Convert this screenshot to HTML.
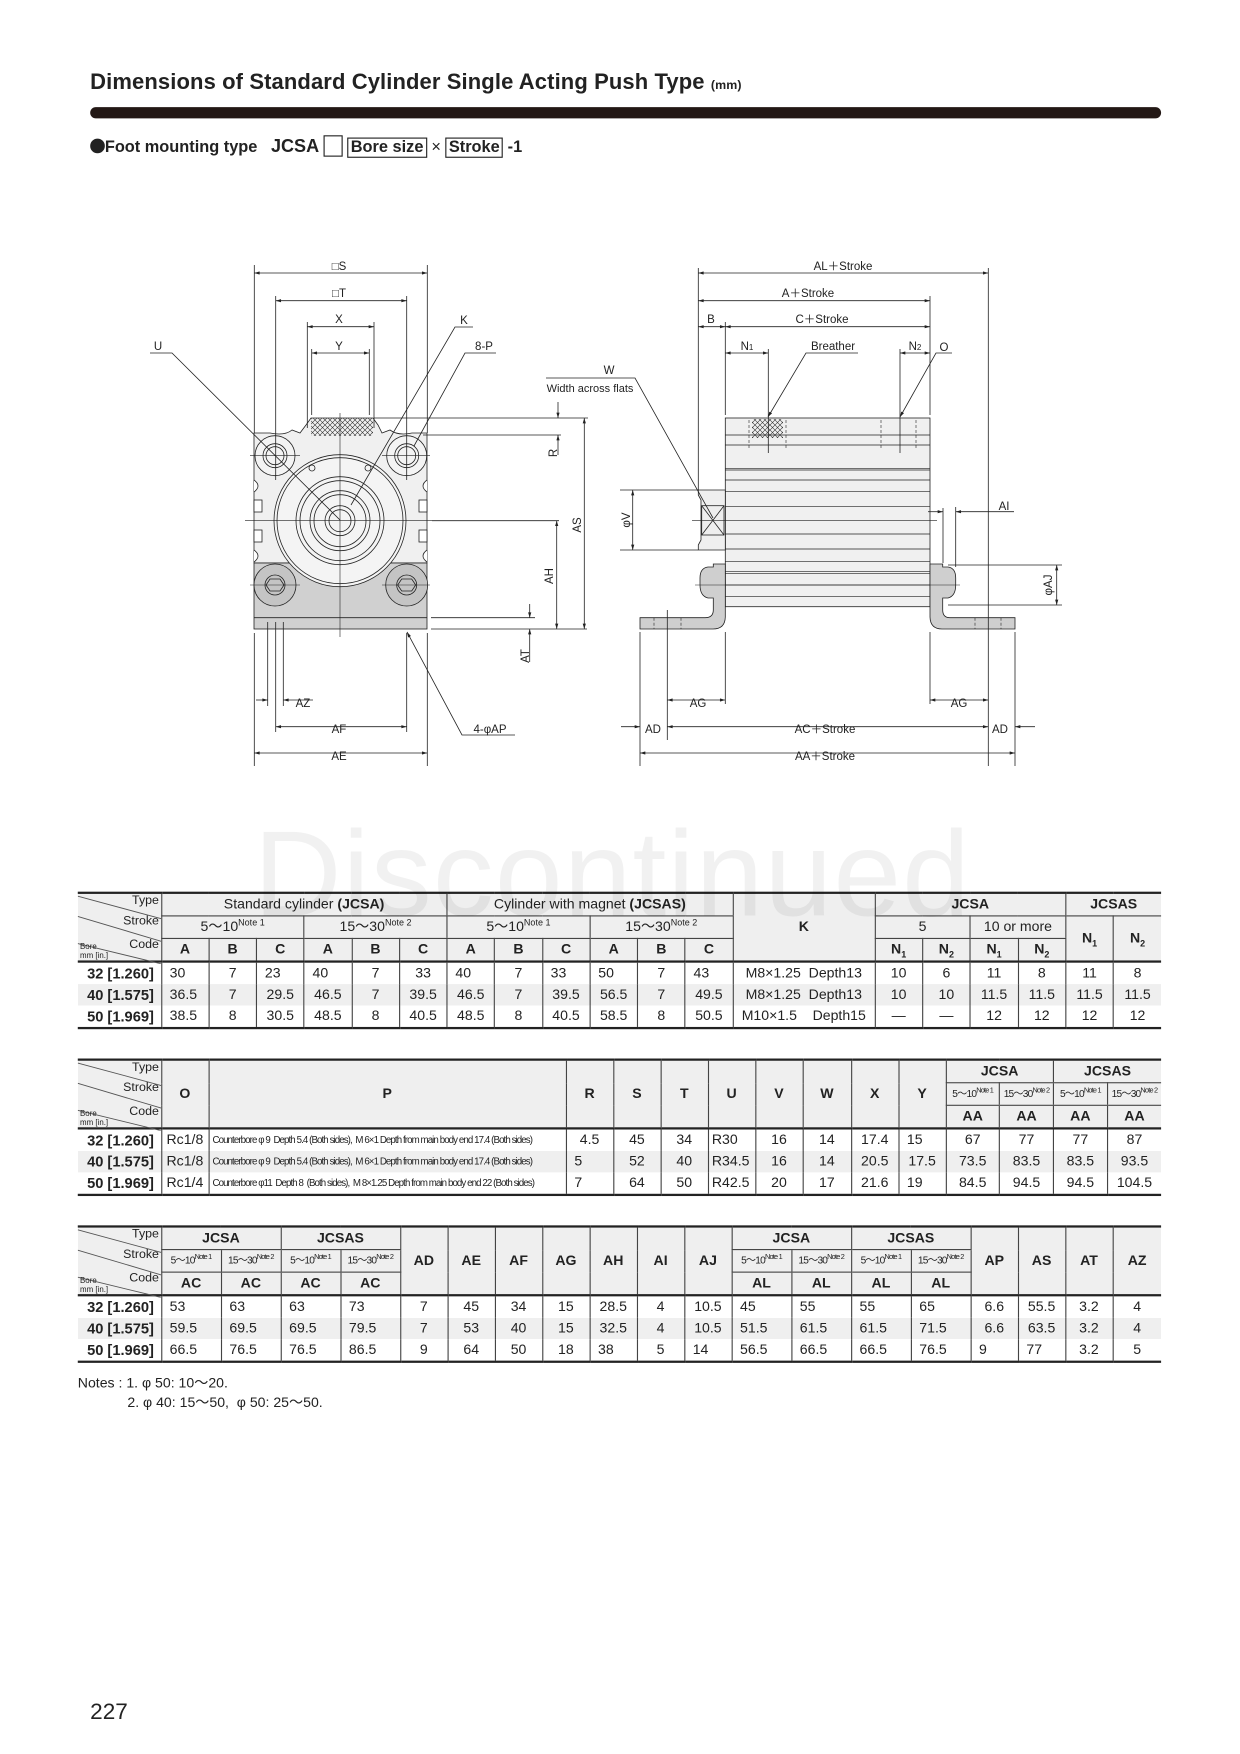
<!DOCTYPE html>
<html><head><meta charset="utf-8">
<style>
html,body{margin:0;padding:0;background:#fff;}
body{width:1240px;height:1754px;position:relative;overflow:hidden;font-family:"Liberation Sans","Noto Sans CJK JP",sans-serif;color:#222;}
#w{position:absolute;left:0;top:0;width:1100px;height:1556px;transform:scale(1.127273);transform-origin:0 0;}
sup,sub{line-height:0;}
.t{position:absolute;left:69px;border-collapse:collapse;table-layout:fixed;font-size:12.5px;width:961px;}
.t td{padding:0;height:19px;text-align:center;border-left:1px solid #444;white-space:nowrap;overflow:hidden;line-height:19px;}
.t tr.h td{background:#efefef;}
.t tr.h1 td{border-top:2px solid #222;}
.t tr.h3 td,.t td.b{font-weight:bold;}
.t tr.d1 td{border-top:2px solid #222;}
.t tr.d3 td{border-bottom:2px solid #222;}
.t tr.g td{background:#efefef;}
.t td.l{font-weight:bold;font-size:13px;border-left:none;text-align:right;padding-right:6px;}
.t td.c{border-left:none;}
.t td.s{font-size:9px;letter-spacing:-0.7px;}
.t td.s sup{font-size:6.5px;}
.t .hl td{border-bottom:1px solid #444;}
.t td.p{font-size:8.6px;text-align:left;padding-left:3px;letter-spacing:-0.8px;}
.t td.al{text-align:left;padding-left:7px;}
.corner{position:absolute;left:69px;width:74px;height:63px;font-size:11px;}
.corner span{position:absolute;right:2px;}
</style></head><body>
<div id="w">
<div style="position:absolute;left:80px;top:62px;font-size:19.5px;font-weight:bold;letter-spacing:0.1px;">Dimensions of Standard Cylinder Single Acting Push Type <span style="font-size:11px;">(mm)</span></div>
<div style="position:absolute;left:80px;top:95px;width:950px;height:10px;background:#231815;border-radius:5px;"></div>
<div style="position:absolute;left:80px;top:120px;font-size:14.5px;font-weight:bold;line-height:20px;white-space:nowrap;">
<span style="display:inline-block;width:13px;height:13px;border-radius:50%;background:#222;vertical-align:-1px;"></span>Foot mounting type &nbsp;&nbsp;<span style="font-size:16px;">JCSA</span> <span style="display:inline-block;width:15px;height:17px;border:1px solid #222;vertical-align:-4px;"></span> <span style="border:1px solid #222;padding:0 2px;">Bore size</span> <span style="font-weight:normal">×</span> <span style="border:1px solid #222;padding:0 2px;">Stroke</span> -1</div>

<!-- TABLE 1 -->
<table class="t" style="top:791px;">
<colgroup><col style="width:74px"><col span="12" style="width:42.25px"><col style="width:126px"><col span="6" style="width:42.33px"></colgroup>
<tr class="h h1 hl"><td class="c" rowspan="3"></td><td colspan="6">Standard cylinder <b>(JCSA)</b></td><td colspan="6">Cylinder with magnet <b>(JCSAS)</b></td><td rowspan="3" class="b">K</td><td colspan="4" class="b">JCSA</td><td colspan="2" class="b">JCSAS</td></tr>
<tr class="h hl"><td colspan="3">5～10<sup style="font-size:8px">Note 1</sup></td><td colspan="3">15～30<sup style="font-size:8px">Note 2</sup></td><td colspan="3">5～10<sup style="font-size:8px">Note 1</sup></td><td colspan="3">15～30<sup style="font-size:8px">Note 2</sup></td><td colspan="2">5</td><td colspan="2">10 or more</td><td rowspan="2" class="b" style="border-bottom:none">N<sub style="font-size:8px">1</sub></td><td rowspan="2" class="b" style="border-bottom:none">N<sub style="font-size:8px">2</sub></td></tr>
<tr class="h h3"><td>A</td><td>B</td><td>C</td><td>A</td><td>B</td><td>C</td><td>A</td><td>B</td><td>C</td><td>A</td><td>B</td><td>C</td><td>N<sub style="font-size:8px">1</sub></td><td>N<sub style="font-size:8px">2</sub></td><td>N<sub style="font-size:8px">1</sub></td><td>N<sub style="font-size:8px">2</sub></td></tr>
<tr class="d1"><td class="l">32 [1.260]</td><td class="al">30</td><td>7</td><td class="al">23</td><td class="al">40</td><td>7</td><td>33</td><td class="al">40</td><td>7</td><td class="al">33</td><td class="al">50</td><td>7</td><td class="al">43</td><td>M8×1.25&nbsp; Depth13</td><td>10</td><td>6</td><td>11</td><td>8</td><td>11</td><td>8</td></tr>
<tr class="g"><td class="l">40 [1.575]</td><td class="al">36.5</td><td>7</td><td>29.5</td><td>46.5</td><td>7</td><td>39.5</td><td>46.5</td><td>7</td><td>39.5</td><td>56.5</td><td>7</td><td>49.5</td><td>M8×1.25&nbsp; Depth13</td><td>10</td><td>10</td><td>11.5</td><td>11.5</td><td>11.5</td><td>11.5</td></tr>
<tr class="d3"><td class="l">50 [1.969]</td><td class="al">38.5</td><td>8</td><td>30.5</td><td>48.5</td><td>8</td><td>40.5</td><td>48.5</td><td>8</td><td>40.5</td><td>58.5</td><td>8</td><td>50.5</td><td>M10×1.5&nbsp;&nbsp;&nbsp; Depth15</td><td>—</td><td>—</td><td>12</td><td>12</td><td>12</td><td>12</td></tr>
</table>

<!-- TABLE 2 -->
<table class="t" style="top:939px;">
<colgroup><col style="width:74px"><col style="width:42px"><col style="width:317px"><col span="5" style="width:42px"><col style="width:43px"><col span="2" style="width:42px"><col span="4" style="width:47.75px"></colgroup>
<tr class="h h1"><td class="c" rowspan="3"></td><td rowspan="3" class="b">O</td><td rowspan="3" class="b">P</td><td rowspan="3" class="b">R</td><td rowspan="3" class="b">S</td><td rowspan="3" class="b">T</td><td rowspan="3" class="b">U</td><td rowspan="3" class="b">V</td><td rowspan="3" class="b">W</td><td rowspan="3" class="b">X</td><td rowspan="3" class="b">Y</td><td colspan="2" class="b" style="border-bottom:1px solid #444">JCSA</td><td colspan="2" class="b" style="border-bottom:1px solid #444">JCSAS</td></tr>
<tr class="h hl"><td class="s">5～10<sup>Note 1</sup></td><td class="s">15～30<sup>Note 2</sup></td><td class="s">5～10<sup>Note 1</sup></td><td class="s">15～30<sup>Note 2</sup></td></tr>
<tr class="h h3"><td>AA</td><td>AA</td><td>AA</td><td>AA</td></tr>
<tr class="d1"><td class="l">32 [1.260]</td><td>Rc1/8</td><td class="p">Counterbore φ 9&nbsp; Depth 5.4 (Both sides),&nbsp; M 6×1 Depth from main body end 17.4 (Both sides)</td><td>4.5</td><td>45</td><td>34</td><td class="al" style="padding-left:3px">R30</td><td>16</td><td>14</td><td>17.4</td><td class="al">15</td><td>67</td><td>77</td><td>77</td><td>87</td></tr>
<tr class="g"><td class="l">40 [1.575]</td><td>Rc1/8</td><td class="p">Counterbore φ 9&nbsp; Depth 5.4 (Both sides),&nbsp; M 6×1 Depth from main body end 17.4 (Both sides)</td><td class="al">5</td><td>52</td><td>40</td><td class="al" style="padding-left:3px">R34.5</td><td>16</td><td>14</td><td>20.5</td><td>17.5</td><td>73.5</td><td>83.5</td><td>83.5</td><td>93.5</td></tr>
<tr class="d3"><td class="l">50 [1.969]</td><td>Rc1/4</td><td class="p">Counterbore φ11&nbsp; Depth 8&nbsp; (Both sides),&nbsp; M 8×1.25 Depth from main body end 22 (Both sides)</td><td class="al">7</td><td>64</td><td>50</td><td class="al" style="padding-left:3px">R42.5</td><td>20</td><td>17</td><td>21.6</td><td class="al">19</td><td>84.5</td><td>94.5</td><td>94.5</td><td>104.5</td></tr>
</table>

<!-- TABLE 3 -->
<table class="t" style="top:1087px;">
<colgroup><col style="width:74px"><col span="4" style="width:53px"><col span="7" style="width:42px"><col span="4" style="width:53px"><col span="3" style="width:42px"><col style="width:43px"></colgroup>
<tr class="h h1"><td class="c" rowspan="3"></td><td colspan="2" class="b" style="border-bottom:1px solid #444">JCSA</td><td colspan="2" class="b" style="border-bottom:1px solid #444">JCSAS</td><td rowspan="3" class="b">AD</td><td rowspan="3" class="b">AE</td><td rowspan="3" class="b">AF</td><td rowspan="3" class="b">AG</td><td rowspan="3" class="b">AH</td><td rowspan="3" class="b">AI</td><td rowspan="3" class="b">AJ</td><td colspan="2" class="b" style="border-bottom:1px solid #444">JCSA</td><td colspan="2" class="b" style="border-bottom:1px solid #444">JCSAS</td><td rowspan="3" class="b">AP</td><td rowspan="3" class="b">AS</td><td rowspan="3" class="b">AT</td><td rowspan="3" class="b">AZ</td></tr>
<tr class="h hl"><td class="s">5～10<sup>Note 1</sup></td><td class="s">15～30<sup>Note 2</sup></td><td class="s">5～10<sup>Note 1</sup></td><td class="s">15～30<sup>Note 2</sup></td><td class="s">5～10<sup>Note 1</sup></td><td class="s">15～30<sup>Note 2</sup></td><td class="s">5～10<sup>Note 1</sup></td><td class="s">15～30<sup>Note 2</sup></td></tr>
<tr class="h h3"><td>AC</td><td>AC</td><td>AC</td><td>AC</td><td>AL</td><td>AL</td><td>AL</td><td>AL</td></tr>
<tr class="d1"><td class="l">32 [1.260]</td><td class="al">53</td><td class="al">63</td><td class="al">63</td><td class="al">73</td><td>7</td><td>45</td><td>34</td><td>15</td><td>28.5</td><td>4</td><td>10.5</td><td class="al">45</td><td class="al">55</td><td class="al">55</td><td class="al">65</td><td>6.6</td><td>55.5</td><td>3.2</td><td>4</td></tr>
<tr class="g"><td class="l">40 [1.575]</td><td class="al">59.5</td><td class="al">69.5</td><td class="al">69.5</td><td class="al">79.5</td><td>7</td><td>53</td><td>40</td><td>15</td><td>32.5</td><td>4</td><td>10.5</td><td class="al">51.5</td><td class="al">61.5</td><td class="al">61.5</td><td class="al">71.5</td><td>6.6</td><td>63.5</td><td>3.2</td><td>4</td></tr>
<tr class="d3"><td class="l">50 [1.969]</td><td class="al">66.5</td><td class="al">76.5</td><td class="al">76.5</td><td class="al">86.5</td><td>9</td><td>64</td><td>50</td><td>18</td><td class="al">38</td><td>5</td><td class="al">14</td><td class="al">56.5</td><td class="al">66.5</td><td class="al">66.5</td><td class="al">76.5</td><td class="al">9</td><td class="al">77</td><td>3.2</td><td>5</td></tr>
</table>

<!-- corner cells -->
<div class="corner" style="top:793px;"><svg width="74" height="62" style="position:absolute;left:0;top:0"><line x1="0" y1="2" x2="74" y2="22" stroke="#555" stroke-width="0.8"/><line x1="0" y1="20" x2="74" y2="42" stroke="#555" stroke-width="0.8"/><line x1="0" y1="44" x2="74" y2="62" stroke="#555" stroke-width="0.8"/></svg><span style="top:0">Type</span><span style="top:18px">Stroke</span><span style="top:39px">Code</span><span style="left:2px;right:auto;top:44px;font-size:7px;line-height:8px">Bore<br>mm [in.]</span></div>
<div class="corner" style="top:941px;"><svg width="74" height="62" style="position:absolute;left:0;top:0"><line x1="0" y1="2" x2="74" y2="22" stroke="#555" stroke-width="0.8"/><line x1="0" y1="20" x2="74" y2="42" stroke="#555" stroke-width="0.8"/><line x1="0" y1="44" x2="74" y2="62" stroke="#555" stroke-width="0.8"/></svg><span style="top:0">Type</span><span style="top:18px">Stroke</span><span style="top:39px">Code</span><span style="left:2px;right:auto;top:44px;font-size:7px;line-height:8px">Bore<br>mm [in.]</span></div>
<div class="corner" style="top:1089px;"><svg width="74" height="62" style="position:absolute;left:0;top:0"><line x1="0" y1="2" x2="74" y2="22" stroke="#555" stroke-width="0.8"/><line x1="0" y1="20" x2="74" y2="42" stroke="#555" stroke-width="0.8"/><line x1="0" y1="44" x2="74" y2="62" stroke="#555" stroke-width="0.8"/></svg><span style="top:0">Type</span><span style="top:18px">Stroke</span><span style="top:39px">Code</span><span style="left:2px;right:auto;top:44px;font-size:7px;line-height:8px">Bore<br>mm [in.]</span></div>

<div style="position:absolute;left:225px;top:712px;font-size:108px;color:rgba(0,0,0,0.055);letter-spacing:1px;">Discontinued</div>

<div style="position:absolute;left:69px;top:1219px;font-size:12.5px;line-height:17px;">Notes : 1. φ 50: 10～20.<br><span style="padding-left:44px">2. φ 40: 15～50,&nbsp; φ 50: 25～50.</span></div>
<div style="position:absolute;left:80px;top:1508px;font-size:20px;">227</div>
</div>

<!-- DRAWINGS in real coords -->
<svg width="1240" height="1754" viewBox="0 0 1240 1754" style="position:absolute;left:0;top:0" font-family="Liberation Sans, sans-serif" font-size="12" fill="none" stroke="#222" stroke-width="0.8">
<defs><marker id="a" viewBox="0 0 10 6" refX="10" refY="3" markerWidth="8" markerHeight="4" orient="auto-start-reverse"><path d="M0 0L10 3L0 6z" fill="#222" stroke="none"/></marker>
<pattern id="x" width="5" height="5" patternUnits="userSpaceOnUse"><path d="M0 0L5 5M5 0L0 5" stroke="#333" stroke-width="0.6"/></pattern></defs>

<!-- LEFT VIEW -->
<g>
<path d="M254 433 L270 433 Q285 436 292 430 L300 433 L306 425 L311 418 L373 418 L378 425 L382 433 L390 430 Q398 436 412 433 L427 433 L427 563 L254 563 Z" fill="#f0f0f0"/>
<rect x="254" y="563" width="173" height="66" fill="#d0d0d0"/>
<line x1="254" y1="617.7" x2="427" y2="617.7"/>
<rect x="311" y="418" width="62" height="18" fill="url(#x)" stroke="none"/>
<g fill="#fff"><path d="M254 480 q8 6 0 12"/><path d="M427 480 q-8 6 0 12"/><rect x="254" y="500" width="8" height="12"/><rect x="419" y="500" width="8" height="12"/><rect x="254" y="530" width="8" height="12"/><rect x="419" y="530" width="8" height="12"/><path d="M254 550 q8 6 0 12"/><path d="M427 550 q-8 6 0 12"/></g>
<circle cx="340" cy="520.7" r="66" fill="#f4f4f4"/><circle cx="340" cy="520.7" r="63"/>
<circle cx="340" cy="520.7" r="44"/><circle cx="340" cy="520.7" r="40"/><circle cx="340" cy="520.7" r="30"/><circle cx="340" cy="520.7" r="26"/><circle cx="340" cy="520.7" r="15"/><circle cx="340" cy="520.7" r="11"/>
<circle cx="312" cy="468" r="3"/><circle cx="368" cy="468" r="3"/>
<circle cx="275" cy="455.7" r="20" fill="#f4f4f4"/><circle cx="275" cy="455.7" r="12"/><circle cx="275" cy="455.7" r="9"/>
<circle cx="406.7" cy="455.7" r="20" fill="#f4f4f4"/><circle cx="406.7" cy="455.7" r="12"/><circle cx="406.7" cy="455.7" r="9"/>
<circle cx="275" cy="585" r="21" fill="#c4c4c4"/><circle cx="275" cy="585" r="10"/><path d="M270 579h10l4 6-4 6h-10l-4-6z"/>
<circle cx="406.7" cy="585" r="21" fill="#c4c4c4"/><circle cx="406.7" cy="585" r="10"/><path d="M401.7 579h10l4 6-4 6h-10l-4-6z"/>
<g stroke-width="0.6"><line x1="245" y1="520.7" x2="432" y2="520.7"/><line x1="340" y1="413" x2="340" y2="637"/><line x1="250" y1="455.7" x2="300" y2="455.7"/><line x1="382" y1="455.7" x2="430" y2="455.7"/><line x1="250" y1="585" x2="300" y2="585"/><line x1="382" y1="585" x2="430" y2="585"/></g>
<line x1="254.3" y1="265" x2="254.3" y2="433"/><line x1="427.3" y1="265" x2="427.3" y2="433"/>
<line x1="254.3" y1="273" x2="427.3" y2="273" marker-start="url(#a)" marker-end="url(#a)"/>
<line x1="275.7" y1="296" x2="275.7" y2="480"/><line x1="406.7" y1="296" x2="406.7" y2="480"/>
<line x1="275.7" y1="300.7" x2="406.7" y2="300.7" marker-start="url(#a)" marker-end="url(#a)"/>
<line x1="307.3" y1="322" x2="307.3" y2="428"/><line x1="374" y1="322" x2="374" y2="428"/>
<line x1="307.3" y1="326.7" x2="374" y2="326.7" marker-start="url(#a)" marker-end="url(#a)"/>
<line x1="311.7" y1="349" x2="311.7" y2="415"/><line x1="369.3" y1="349" x2="369.3" y2="415"/>
<line x1="311.7" y1="353" x2="369.3" y2="353" marker-start="url(#a)" marker-end="url(#a)"/>
<polyline points="150,353 172,353 340,520"/><polyline points="473,327 455,327 351,505"/><polyline points="496,353 465,353 414,446"/>
<polyline points="515,735 462,735 407,632" marker-end="url(#a)"/>
<line x1="374" y1="418" x2="588" y2="418"/><line x1="423" y1="435" x2="561" y2="435"/>
<line x1="558" y1="402" x2="558" y2="418" marker-end="url(#a)"/><line x1="558" y1="455" x2="558" y2="435" marker-end="url(#a)"/>
<line x1="432" y1="520.7" x2="559" y2="520.7"/>
<line x1="556.7" y1="520.7" x2="556.7" y2="629" marker-start="url(#a)" marker-end="url(#a)"/>
<line x1="584.3" y1="418" x2="584.3" y2="629" marker-start="url(#a)" marker-end="url(#a)"/>
<line x1="431" y1="617.7" x2="535" y2="617.7"/><line x1="431" y1="629" x2="587" y2="629"/>
<line x1="529.7" y1="604" x2="529.7" y2="617.7" marker-end="url(#a)"/><line x1="529.7" y1="662" x2="529.7" y2="629" marker-end="url(#a)"/>
<line x1="254.3" y1="633" x2="254.3" y2="766"/><line x1="427.3" y1="633" x2="427.3" y2="766"/>
<line x1="275.7" y1="622" x2="275.7" y2="732"/><line x1="406.7" y1="633" x2="406.7" y2="732"/>
<line x1="267.7" y1="622" x2="267.7" y2="706"/><line x1="283.3" y1="622" x2="283.3" y2="706"/>
<line x1="256" y1="700" x2="267.7" y2="700" marker-end="url(#a)"/><line x1="313" y1="700" x2="283.3" y2="700" marker-end="url(#a)"/>
<line x1="275.7" y1="726.7" x2="406.7" y2="726.7" marker-start="url(#a)" marker-end="url(#a)"/>
<line x1="254.3" y1="753" x2="427.3" y2="753" marker-start="url(#a)" marker-end="url(#a)"/>
</g>
<g fill="#222" stroke="none" font-size="11.5">
<text x="339" y="270" text-anchor="middle">□S</text><text x="339" y="297" text-anchor="middle">□T</text>
<text x="339" y="323" text-anchor="middle">X</text><text x="339" y="350" text-anchor="middle">Y</text>
<text x="158" y="350" text-anchor="middle">U</text><text x="464" y="324" text-anchor="middle">K</text><text x="484" y="350" text-anchor="middle">8-P</text>
<text x="303" y="707" text-anchor="middle">AZ</text><text x="339" y="733" text-anchor="middle">AF</text><text x="339" y="760" text-anchor="middle">AE</text>
<text x="490" y="733" text-anchor="middle">4-φAP</text>
<text transform="translate(557,453) rotate(-90)" text-anchor="middle">R</text>
<text transform="translate(553,576) rotate(-90)" text-anchor="middle">AH</text>
<text transform="translate(581,525) rotate(-90)" text-anchor="middle">AS</text>
<text transform="translate(529,656) rotate(-90)" text-anchor="middle">AT</text>
</g>

<!-- RIGHT VIEW -->
<g>
<rect x="725.3" y="418" width="204.7" height="188.7" fill="#f0f0f0"/>
<g stroke-width="0.7"><line x1="725.3" y1="435" x2="930" y2="435"/><line x1="725.3" y1="445" x2="930" y2="445"/><line x1="725.3" y1="468.3" x2="930" y2="468.3"/><line x1="725.3" y1="470" x2="930" y2="470"/><line x1="725.3" y1="480" x2="930" y2="480"/><line x1="725.3" y1="491.7" x2="930" y2="491.7"/><line x1="725.3" y1="506.7" x2="930" y2="506.7"/><line x1="725.3" y1="534" x2="930" y2="534"/><line x1="725.3" y1="549" x2="930" y2="549"/><line x1="725.3" y1="561.7" x2="930" y2="561.7"/><line x1="725.3" y1="571.7" x2="930" y2="571.7"/><line x1="725.3" y1="573.3" x2="930" y2="573.3"/><line x1="725.3" y1="585" x2="930" y2="585"/><line x1="725.3" y1="596.7" x2="930" y2="596.7"/></g>
<rect x="752" y="419" width="31" height="19" fill="url(#x)" stroke="none"/>
<g stroke-width="0.6" stroke-dasharray="3,2"><line x1="749" y1="420" x2="749" y2="448"/><line x1="786" y1="420" x2="786" y2="448"/><line x1="881" y1="420" x2="881" y2="448"/><line x1="916" y1="420" x2="916" y2="448"/></g>
<path d="M698.3 490 L725.3 490 L725.3 550 L698.3 550 L698.3 545 L701 540 L701 500 L698.3 495Z" fill="#efefef"/>
<rect x="701.7" y="505.7" width="22.3" height="29.3" fill="#eee"/><line x1="701.7" y1="505.7" x2="724" y2="535"/><line x1="724" y1="505.7" x2="701.7" y2="535"/>
<path d="M713.3 564 L725.3 564 L725.3 617 Q725 629 713 629 L640 629 L640 617.7 L705 617.7 Q713.3 617.7 713.3 610 L713.3 598 L708 598 Q700 596 700 585 L700 578 Q700 568 708 567 L713.3 567 Z" fill="#cfcfcf"/>
<path d="M942.7 564 L930 564 L930 617 Q930.3 629 942 629 L1015 629 L1015 617.7 L950 617.7 Q942.7 617.7 942.7 610 L942.7 598 L948 598 Q955.7 596 955.7 585 L955.7 578 Q955.7 568 948 567 L942.7 567 Z" fill="#cfcfcf"/>
<g stroke-width="0.6" stroke-dasharray="3,2"><line x1="654" y1="617.7" x2="654" y2="629"/><line x1="681" y1="617.7" x2="681" y2="629"/><line x1="975" y1="617.7" x2="975" y2="629"/><line x1="1001" y1="617.7" x2="1001" y2="629"/></g>
<line x1="692" y1="520.7" x2="937" y2="520.7" stroke-width="0.6"/><line x1="695" y1="585" x2="960" y2="585" stroke-width="0.6"/>
<line x1="698.3" y1="268" x2="698.3" y2="490"/><line x1="988.3" y1="268" x2="988.3" y2="766"/>
<line x1="698.3" y1="273" x2="988.3" y2="273" marker-start="url(#a)" marker-end="url(#a)"/>
<line x1="930" y1="296" x2="930" y2="415"/>
<line x1="698.3" y1="300.7" x2="930" y2="300.7" marker-start="url(#a)" marker-end="url(#a)"/>
<line x1="725.3" y1="322" x2="725.3" y2="415"/>
<line x1="698.3" y1="326.7" x2="725.3" y2="326.7" marker-start="url(#a)" marker-end="url(#a)"/>
<line x1="725.3" y1="326.7" x2="930" y2="326.7" marker-start="url(#a)" marker-end="url(#a)"/>
<line x1="725.3" y1="353" x2="768.3" y2="353" marker-start="url(#a)" marker-end="url(#a)"/><line x1="768.3" y1="349" x2="768.3" y2="453"/>
<line x1="900" y1="349" x2="900" y2="453"/><line x1="900" y1="353" x2="930" y2="353" marker-start="url(#a)" marker-end="url(#a)"/>
<polyline points="858,353 806,353 768,417" marker-end="url(#a)"/>
<polyline points="952,353 936,353 900,417" marker-end="url(#a)"/>
<polyline points="546,378 635,378 713,518"/>
<line x1="620" y1="490" x2="698" y2="490"/><line x1="620" y1="550" x2="698" y2="550"/>
<line x1="632.7" y1="490" x2="632.7" y2="550" marker-start="url(#a)" marker-end="url(#a)"/>
<line x1="943" y1="508" x2="943" y2="563"/><line x1="955.7" y1="507" x2="955.7" y2="567"/>
<line x1="928" y1="511.7" x2="943" y2="511.7" marker-end="url(#a)"/><line x1="1014" y1="511.7" x2="955.7" y2="511.7" marker-end="url(#a)"/>
<line x1="948" y1="565" x2="1062" y2="565"/><line x1="948" y1="605" x2="1062" y2="605"/>
<line x1="1056.7" y1="565" x2="1056.7" y2="605" marker-start="url(#a)" marker-end="url(#a)"/>
<line x1="640" y1="632" x2="640" y2="766"/><line x1="667.3" y1="610" x2="667.3" y2="740"/><line x1="725.3" y1="632" x2="725.3" y2="704"/><line x1="930" y1="632" x2="930" y2="704"/><line x1="1015" y1="632" x2="1015" y2="766"/>
<line x1="667.3" y1="700" x2="725.3" y2="700" marker-start="url(#a)" marker-end="url(#a)"/>
<line x1="930" y1="700" x2="988.3" y2="700" marker-start="url(#a)" marker-end="url(#a)"/>
<line x1="621" y1="726.7" x2="640" y2="726.7" marker-end="url(#a)"/>
<line x1="667.3" y1="726.7" x2="988.3" y2="726.7" marker-start="url(#a)" marker-end="url(#a)"/>
<line x1="1035" y1="726.7" x2="1015" y2="726.7" marker-end="url(#a)"/>
<line x1="640" y1="753" x2="1015" y2="753" marker-start="url(#a)" marker-end="url(#a)"/>
</g>
<g fill="#222" stroke="none" font-size="11.5">
<text x="843" y="270" text-anchor="middle">AL＋Stroke</text><text x="808" y="297" text-anchor="middle">A＋Stroke</text>
<text x="711" y="323" text-anchor="middle">B</text><text x="822" y="323" text-anchor="middle">C＋Stroke</text>
<text x="747" y="350" text-anchor="middle">N<tspan font-size="8">1</tspan></text><text x="915" y="350" text-anchor="middle">N<tspan font-size="8">2</tspan></text>
<text x="833" y="350" text-anchor="middle">Breather</text><text x="944" y="351" text-anchor="middle">O</text>
<text x="609" y="374" text-anchor="middle">W</text><text x="590" y="392" text-anchor="middle" font-size="11">Width across flats</text>
<text x="1004" y="510" text-anchor="middle">AI</text>
<text x="698" y="707" text-anchor="middle">AG</text><text x="959" y="707" text-anchor="middle">AG</text>
<text x="653" y="733" text-anchor="middle">AD</text><text x="825" y="733" text-anchor="middle">AC＋Stroke</text><text x="1000" y="733" text-anchor="middle">AD</text>
<text x="825" y="760" text-anchor="middle">AA＋Stroke</text>
<text transform="translate(630,520) rotate(-90)" text-anchor="middle">φV</text>
<text transform="translate(1052,585) rotate(-90)" text-anchor="middle">φAJ</text>
</g>
</svg>
</body></html>
